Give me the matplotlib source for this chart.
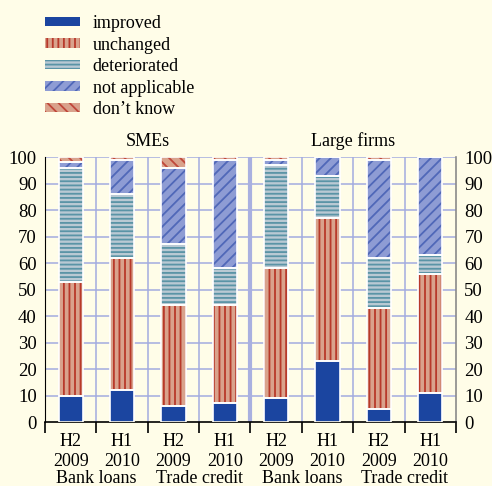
import numpy as np
import matplotlib
matplotlib.use('Agg')
import matplotlib.pyplot as plt
import matplotlib.transforms as mtransforms

plt.rcParams['font.family'] = ['Liberation Serif', 'DejaVu Serif']
plt.rcParams['hatch.linewidth'] = 1.3

# bars: SMEs (bank loans H2 2009, H1 2010, trade credit H2 2009, H1 2010), then large firms
periods = ['H2', 'H1', 'H2', 'H1', 'H2', 'H1', 'H2', 'H1']
years = ['2009', '2010', '2009', '2010', '2009', '2010', '2009', '2010']
instruments = ['Bank loans', 'Trade credit', 'Bank loans', 'Trade credit']
groups = ['SMEs', 'Large firms']

improved = [10, 12, 6, 7, 9, 23, 5, 11]
unchanged = [43, 50, 38, 37, 49, 54, 38, 45]
deteriorated = [43, 24, 23, 14, 39, 16, 19, 7]
not_applicable = [2, 13, 29, 41, 2, 7, 37, 37]
dont_know = [2, 1, 4, 1, 1, 0, 1, 0]

series = [
    ('improved', improved, '#1b45a0', '#1b45a0', ''),
    ('unchanged', unchanged, '#d9a28c', '#b8392a', '|||'),
    ('deteriorated', deteriorated, '#b9c9d3', '#5a94a6', '----'),
    ('not applicable', not_applicable, '#8e9cd4', '#5068b8', '///'),
    ('don\u2019t know', dont_know, '#d9a28c', '#c0473a', '\\\\\\'),
]

bg = '#fffde8'
grid = '#a3abe0'

fig = plt.figure(figsize=(4.92, 4.86), dpi=100, facecolor=bg)
ax = fig.add_axes([45 / 492, 1 - 422 / 486, 411 / 492, 265 / 486])
ax.set_facecolor(bg)

x = np.arange(len(improved))
width = 0.47

# grid
for yv in range(10, 101, 10):
    ax.axhline(yv, color=grid, lw=1.1, zorder=0)
for xv in np.arange(0.5, 7, 1.0):
    if xv == 3.5:
        ax.axvline(xv, color='#a9b0e0', lw=3.0, zorder=0)
    else:
        ax.axvline(xv, color=grid, lw=1.1, zorder=0)

handles = []
bottom = np.zeros(len(x))
for label, vals, face, hcol, hatch in series:
    vals = np.array(vals, dtype=float)
    h = ax.bar(x, vals, width, bottom=bottom, color=face, edgecolor=hcol,
               hatch=hatch, linewidth=0, zorder=2, label=label)
    ax.bar(x, vals, width, bottom=bottom, fill=False, edgecolor='white',
           linewidth=1.2, zorder=3)
    handles.append(h)
    bottom += vals

ax.set_xlim(-0.5, 7.5)
ax.set_ylim(0, 100)
ax.set_yticks(range(0, 101, 10))
ax.tick_params(axis='y', length=0, labelsize=13.5, pad=6,
               labelleft=True, labelright=True)
ax.set_xticks(np.arange(-0.5, 7.6, 1.0))
ax.set_xticklabels([])
ax.tick_params(axis='x', direction='out', length=8, width=1.2, color='black')

ax.spines['top'].set_visible(False)
ax.spines['left'].set_color('black')
ax.spines['bottom'].set_color('black')
ax.spines['bottom'].set_linewidth(1.2)
ax.spines['right'].set_color('#8a8a8a')
ax.spines['right'].set_linewidth(1.2)

# category labels
tr = mtransforms.blended_transform_factory(ax.transData, fig.transFigure)
for i in range(len(x)):
    ax.text(x[i], 1 - 441 / 486, periods[i], transform=tr, ha='center',
            va='center', fontsize=13)
    ax.text(x[i], 1 - 461 / 486, years[i], transform=tr, ha='center',
            va='center', fontsize=13)
for j, name in enumerate(instruments):
    ax.text(2 * j + 0.5, 1 - 478 / 486, name, transform=tr, ha='center',
            va='center', fontsize=13)
for j, name in enumerate(groups):
    ax.text(4 * j + 1.5, 1 - 141 / 486, name, transform=tr, ha='center',
            va='center', fontsize=13)

fig.legend(handles=handles, loc='upper left', bbox_to_anchor=(45 / 492, 1 - 15 / 486),
           frameon=False, fontsize=13, handlelength=1.95, handleheight=0.45,
           handletextpad=0.7, labelspacing=0.25, borderpad=0, borderaxespad=0)

fig.savefig('out.png', dpi=100, facecolor=bg)
